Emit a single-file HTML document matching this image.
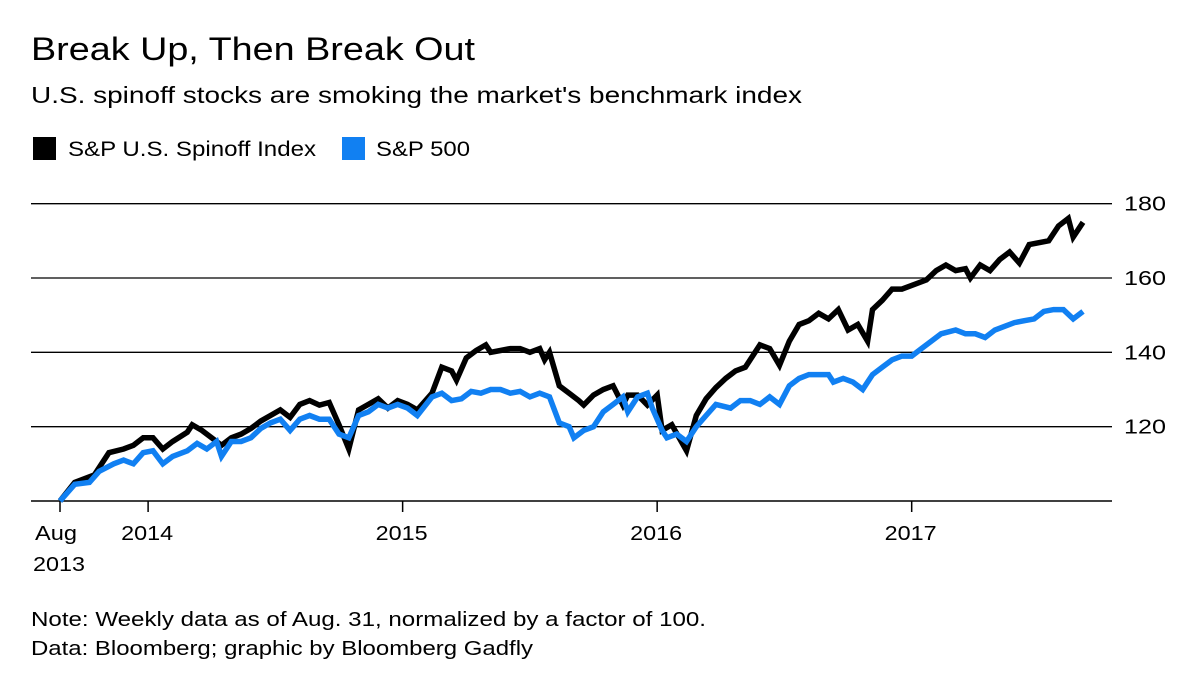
<!DOCTYPE html>
<html><head><meta charset="utf-8"><style>
body{margin:0;background:#fff;width:1200px;height:683px;overflow:hidden;font-family:"Liberation Sans",sans-serif;color:#000}
svg text{font-family:"Liberation Sans",sans-serif}
</style></head><body>
<svg width="1200" height="683">
<text x="31" y="60" font-size="32" textLength="444" lengthAdjust="spacingAndGlyphs">Break Up, Then Break Out</text>
<text x="31" y="103" font-size="23" textLength="771" lengthAdjust="spacingAndGlyphs">U.S. spinoff stocks are smoking the market's benchmark index</text>
<g><rect x="33" y="137" width="23" height="23" fill="#000"/><text x="68" y="156" font-size="21" textLength="248" lengthAdjust="spacingAndGlyphs">S&amp;P U.S. Spinoff Index</text></g>
<g><rect x="342" y="137" width="23" height="23" fill="#1180f2"/><text x="376" y="156" font-size="21" textLength="94" lengthAdjust="spacingAndGlyphs">S&amp;P 500</text></g>
<g id="grid"></g><g id="xax"></g><g id="lines"></g>
<text x="31" y="626" font-size="20" textLength="675" lengthAdjust="spacingAndGlyphs">Note: Weekly data as of Aug. 31, normalized by a factor of 100.</text>
<text x="31" y="655" font-size="20" textLength="502" lengthAdjust="spacingAndGlyphs">Data: Bloomberg; graphic by Bloomberg Gadfly</text>
</svg>
<script>
const yTicks=[120,140,160,180];
const xTickWeeks=[0,18,70,122,174];
const xTickLabels=["Aug","2014","2015","2016","2017"];
const blackWeeks=[0,3,7,10,13,15,17,19,21,23,26,27,29,31,33,35,37,39,41,43,45,47,49,51,53,55,57,59,61,63,65,67,69,71,73,76,78,80,81,83,85,87,88,90,92,94,96,98,99,100,102,104,106,107,109,111,113,115,116,118,120,122,123,125,128,130,132,134,136,138,140,143,145,147,149,151,153,155,157,159,161,163,165,166,168,170,172,174,177,179,181,183,185,186,188,190,192,194,196,198,200,202,204,206,207,209];
const blackValues=[100,105,107,113,114,115,117,117,114,116,118.5,120.5,119,117,115,117,118,119.5,121.5,123,124.5,122.5,126,127,125.8,126.5,120.5,114,124.5,126,127.5,125,127,126,124.5,129,136,135,132.5,138.5,140.5,142,140,140.5,141,141,140,141,138,140,131,129,127,125.8,128.5,130,131,125.8,128.5,128.5,125.8,128.5,119,120.5,113.5,123,127.5,130.5,133,135,136,142,141,136.5,143,147.5,148.5,150.5,149,151.5,146,147.5,143,151.5,154,157,157,158,159.5,162,163.5,162,162.5,160,163.5,162,165,167,164,169,169.5,170,174,176,171,175];
const blueWeeks=[0,3,6,8,11,13,15,17,19,21,23,26,28,30,32,33,35,37,39,41,43,45,47,49,51,53,55,57,59,61,63,65,67,69,71,73,76,78,80,82,84,86,88,90,92,94,96,98,100,102,104,105,107,109,111,113,115,116,118,120,121,123,124,126,128,130,132,134,137,139,141,143,145,147,149,151,153,155,157,158,160,162,164,166,168,170,172,174,176,178,180,183,185,187,189,191,193,195,197,199,201,203,205,207,209];
const blueValues=[100,104.5,105,108,110,111,110,113,113.5,110,112,113.5,115.5,114,116,112,116,116,117,119.5,121,122,119,122,123,122,122,118,117,123,124,126,125,126,125,123,128,129,127,127.5,129.5,129,130,130,129,129.5,128,129,128,121,120,117,119,120,124,126,128,124,128,129,125,119,117,118,116,120,123,126,125,127,127,126,128,126,131,133,134,134,134,132,133,132,130,134,136,138,139,139,141,143,145,146,145,145,144,146,147,148,148.5,149,151,151.5,151.5,149,151];
const NS="http://www.w3.org/2000/svg";
const xs=w=>60+w*1023/209;
const ys=v=>501-(v-100)*223/60;
const grid=document.getElementById('grid');
yTicks.forEach(t=>{
 const l=document.createElementNS(NS,'line');
 l.setAttribute('x1',31);l.setAttribute('x2',1112);l.setAttribute('y1',ys(t));l.setAttribute('y2',ys(t));
 l.setAttribute('stroke','#000');l.setAttribute('stroke-width','1.3');
 
 
 grid.appendChild(l);
 const tx=document.createElementNS(NS,'text');
 tx.setAttribute('x',1124);tx.setAttribute('y',ys(t)+7);tx.setAttribute('font-size','20');tx.setAttribute('textLength','42');tx.setAttribute('lengthAdjust','spacingAndGlyphs');tx.textContent=t;
 
 
 grid.appendChild(tx);
});
const xax=document.getElementById('xax');
const base=document.createElementNS(NS,'line');
base.setAttribute('x1',31);base.setAttribute('x2',1112);base.setAttribute('y1',501);base.setAttribute('y2',501);
base.setAttribute('stroke','#000');base.setAttribute('stroke-width','1.5');


xax.appendChild(base);
xTickWeeks.forEach((w,i)=>{
 const l=document.createElementNS(NS,'line');
 l.setAttribute('x1',xs(w));l.setAttribute('x2',xs(w));l.setAttribute('y1',501);l.setAttribute('y2',512);
 l.setAttribute('stroke','#000');l.setAttribute('stroke-width','1.5');
 
 
 xax.appendChild(l);
 const tx=document.createElementNS(NS,'text');
 tx.setAttribute('x',i==0?xs(w)-25:xs(w)-27);tx.setAttribute('y',540);tx.setAttribute('font-size','20');
 tx.setAttribute('textLength',i==0?'42':'52');tx.setAttribute('lengthAdjust','spacingAndGlyphs');
 tx.textContent=xTickLabels[i];
 
 
 xax.appendChild(tx);
});
const t2=document.createElementNS(NS,'text');
t2.setAttribute('x',33);t2.setAttribute('y',571);t2.setAttribute('font-size','20');t2.setAttribute('textLength','52');t2.setAttribute('lengthAdjust','spacingAndGlyphs');t2.textContent='2013';


xax.appendChild(t2);
const lines=document.getElementById('lines');
function draw(wk,vals,col,name){
 const p=document.createElementNS(NS,'polyline');
 p.setAttribute('points',wk.map((w,i)=>xs(w).toFixed(1)+','+ys(vals[i]).toFixed(1)).join(' '));
 p.setAttribute('fill','none');p.setAttribute('stroke',col);p.setAttribute('stroke-width','5.5');p.setAttribute('stroke-linejoin','miter');
 
 
 lines.appendChild(p);
}
draw(blackWeeks,blackValues,'#000','spinoff-index-line');
draw(blueWeeks,blueValues,'#1180f2','sp500-line');
</script>
</body></html>
